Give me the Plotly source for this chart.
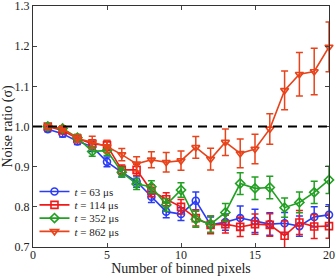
import plotly.graph_objects as go

pixels = list(range(1, 21))

ratio_63 = [0.993, 0.982, 0.963, 0.950, 0.912, 0.886, 0.863, 0.825, 0.788, 0.782,
            0.815, 0.755, 0.762, 0.772, 0.765, 0.757, 0.759, 0.752, 0.775, 0.780]
err_63 = [0.006, 0.008, 0.008, 0.012, 0.012, 0.012, 0.014, 0.014, 0.015, 0.016,
          0.022, 0.020, 0.020, 0.030, 0.029, 0.028, 0.027, 0.025, 0.025, 0.025]

ratio_114 = [1.000, 0.990, 0.970, 0.957, 0.953, 0.892, 0.892, 0.840, 0.819, 0.800,
             0.772, 0.755, 0.757, 0.750, 0.757, 0.755, 0.728, 0.761, 0.751, 0.752]
err_114_plus = [0.005, 0.006, 0.008, 0.010, 0.012, 0.012, 0.014, 0.015, 0.016, 0.018,
                0.020, 0.022, 0.022, 0.024, 0.025, 0.028, 0.037, 0.030, 0.030, 0.030]
err_114_minus = [0.005, 0.006, 0.008, 0.010, 0.012, 0.012, 0.014, 0.015, 0.016, 0.018,
                 0.020, 0.022, 0.022, 0.024, 0.025, 0.028, 0.070, 0.030, 0.030, 0.030]

ratio_352 = [1.000, 0.995, 0.972, 0.938, 0.940, 0.886, 0.857, 0.850, 0.805, 0.842,
             0.769, 0.757, 0.786, 0.858, 0.846, 0.848, 0.798, 0.811, 0.836, 0.867]
err_352 = [0.005, 0.007, 0.008, 0.012, 0.012, 0.012, 0.014, 0.015, 0.016, 0.018,
           0.020, 0.020, 0.022, 0.027, 0.028, 0.028, 0.024, 0.026, 0.028, 0.034]

ratio_862 = [1.000, 0.995, 0.970, 0.961, 0.950, 0.930, 0.907, 0.917, 0.911, 0.915,
             0.948, 0.919, 0.961, 0.933, 0.944, 0.994, 1.090, 1.130, 1.137, 1.198]
err_862 = [0.005, 0.006, 0.010, 0.015, 0.015, 0.015, 0.018, 0.020, 0.024, 0.024,
           0.027, 0.027, 0.033, 0.036, 0.037, 0.038, 0.048, 0.054, 0.058, 0.062]

labels = ["<i>t</i> = 63 μs", "<i>t</i> = 114 μs", "<i>t</i> = 352 μs", "<i>t</i> = 862 μs"]
colors = ["#2a3cf5", "#f01818", "#22a022", "#e8431a"]
symbols = ["circle-open", "square-open", "diamond-open", "triangle-down-open"]

FONT = "Liberation Serif, Times New Roman, serif"

fig = go.Figure()

series = [
    (ratio_63, dict(type="data", array=err_63)),
    (ratio_114, dict(type="data", array=err_114_plus, arrayminus=err_114_minus, symmetric=False)),
    (ratio_352, dict(type="data", array=err_352)),
    (ratio_862, dict(type="data", array=err_862)),
]

legend_names = ["legend", "legend2", "legend3", "legend4"]

for i, (vals, err) in enumerate(series):
    err.update(color=colors[i], thickness=1.5, width=3.5)
    fig.add_trace(go.Scatter(
        x=pixels, y=vals, name=labels[i], mode="lines+markers",
        line=dict(color=colors[i], width=1.6),
        marker=dict(symbol=symbols[i], size=7, color=colors[i], line=dict(width=1.6, color=colors[i])),
        error_y=err, cliponaxis=False, legend=legend_names[i],
    ))

fig.add_shape(type="line", xref="x", yref="y", x0=0, x1=20, y0=1.0, y1=1.0,
              line=dict(color="black", width=2, dash="9px,6px"))

legend_common = dict(x=0.005, xanchor="left", yanchor="middle", bgcolor="rgba(0,0,0,0)",
                     font=dict(family=FONT, size=11, color="#222"), itemwidth=30)
ys = [0.23, 0.175, 0.12, 0.065]
layout_legends = {}
for i, ln in enumerate(legend_names):
    layout_legends[ln] = dict(y=ys[i], **legend_common)

fig.update_layout(
    width=335, height=276,
    margin=dict(l=33, r=6, t=6, b=29, autoexpand=False),
    paper_bgcolor="white", plot_bgcolor="white",
    font=dict(family=FONT, size=12, color="#222"),
    showlegend=True,
    **layout_legends,
)

fig.update_xaxes(range=[0, 20], tickvals=[0, 5, 10, 15, 20], ticks="inside", ticklen=4,
                 showline=True, linecolor="#333", linewidth=1.2, mirror="ticks", showgrid=False,
                 zeroline=False, automargin=False, ticklabeloverflow="allow",
                 ticklabelstandoff=-4,
                 title=dict(text="Number of binned pixels", standoff=0),
                 tickfont=dict(size=12))
fig.update_yaxes(range=[0.7, 1.3], tickvals=[0.7, 0.8, 0.9, 1.0, 1.1, 1.2, 1.3],
                 ticktext=["0.7", "0.8", "0.9", "1.0", "1.1", "1.2", "1.3"],
                 ticks="inside", ticklen=4,
                 showline=True, linecolor="#333", linewidth=1.2, mirror="ticks", showgrid=False,
                 zeroline=False, automargin=False, ticklabeloverflow="allow",
                 title=dict(text="Noise ratio (σ)", standoff=0),
                 tickfont=dict(size=12))

fig.write_html("out.html", config={"displayModeBar": False},
               post_script="document.body.style.margin='0';")
